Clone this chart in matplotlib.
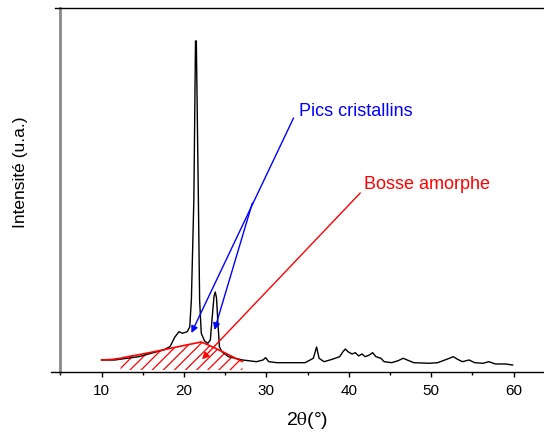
import numpy as np
import matplotlib
matplotlib.use('Agg')
import matplotlib.pyplot as plt

plt.rcParams['font.family'] = ['Liberation Sans', 'DejaVu Sans']
plt.rcParams['mathtext.fontset'] = 'stix'
plt.rcParams['hatch.linewidth'] = 0.9

# diffractogramme (2theta, intensité u.a.)
two_theta = [10.0, 11.6, 14.5, 17.5, 18.3, 18.9, 19.4, 19.8, 20.4, 20.7, 20.9, 21.2,
             21.4, 21.5, 21.75, 21.9, 22.1, 22.5, 22.9, 23.2, 23.4, 23.65, 23.8, 23.95,
             24.1, 24.3, 24.6, 25.4, 27.1, 28.8, 29.6, 29.9, 30.3, 31.3, 34.7, 35.7,
             36.1, 36.4, 37.0, 38.0, 38.9, 39.3, 39.6, 39.9, 40.4, 40.8, 41.2, 41.6,
             42.0, 42.5, 42.9, 43.3, 43.9, 44.3, 45.2, 46.0, 46.6, 47.3, 47.9, 49.8,
             50.8, 51.9, 52.7, 53.2, 53.8, 54.6, 55.3, 56.3, 57.0, 57.8, 59.0, 59.9]
intensite = [12, 12, 15.3, 22, 25.3, 35, 40.3, 38.7, 40.3, 45, 72, 172,
             331, 331, 172, 72, 38.7, 31, 28.7, 32, 52, 76, 80, 74,
             52, 25.3, 20.3, 15.3, 12, 10.3, 12, 14.3, 10.3, 9.3, 9.3, 13.7,
             25, 13.7, 10.3, 12.7, 15.3, 20.3, 23, 20.3, 18, 19.3, 16, 18,
             15.3, 17, 19.3, 15.3, 13.7, 10.3, 9.3, 11.3, 13.7, 11.3, 9.3, 8.7,
             9.3, 12.7, 15.3, 12.7, 10.3, 12, 9.3, 8.7, 10.3, 8, 8, 7]

# bosse amorphe
amorphe_x = [10.0, 11.2, 12.3, 13.0, 15.0, 17.7, 20.0, 22.1, 23.5, 25.0, 26.3, 27.1]
amorphe_y = [12, 12.5, 13.7, 15, 18, 22.5, 26.5, 30, 25, 19, 13.5, 10.5]

fig = plt.figure(figsize=(5.44, 4.34), dpi=100)
ax = fig.add_axes([0.111, 0.1429, 0.889, 0.8387])

ax.plot(two_theta, intensite, color='black', lw=1)
ax.plot(amorphe_x, amorphe_y, color='red', lw=1.2)
zone = np.array(amorphe_x) >= 12.3
ax.fill_between(amorphe_x, 2, amorphe_y, where=zone, facecolor='none',
                edgecolor='red', hatch='///', linewidth=0)

ax.set_xticks([10, 20, 30, 40, 50, 60])
ax.set_xticks([5, 15, 25, 35, 45, 55], minor=True)
ax.set_yticks([])
ax.set_xlim(5, 63.7)
ax.set_ylim(0, 364)

ax.spines['right'].set_visible(False)
ax.spines['left'].set_color('#888888')
ax.spines['left'].set_linewidth(2)
ax.spines['top'].set_linewidth(1)
ax.spines['bottom'].set_linewidth(1)
ax.spines['top'].set_bounds(4.4, 63.7)
ax.spines['bottom'].set_bounds(3.9, 63.7)

ax.tick_params(axis='x', which='major', direction='out', length=3.6, width=1,
               labelsize=11, pad=5, top=False)
ax.tick_params(axis='x', which='minor', direction='out', length=2.4, width=1, top=False)

ax.set_ylabel('Intensité (u.a.)', fontsize=12.5)
ax.yaxis.set_label_coords(-0.066, 0.55)
ax.set_xlabel(r'2$\mathrm{\theta}$(°)', fontsize=14)
ax.xaxis.set_label_coords(0.511, -0.105)

arrow_kw = dict(arrowstyle='-|>', lw=1, shrinkA=0, shrinkB=0, mutation_scale=10)
ax.annotate('', xy=(20.9, 39), xytext=(33.3, 254),
            arrowprops=dict(color='blue', **arrow_kw))
ax.annotate('', xy=(23.7, 42), xytext=(28.3, 169),
            arrowprops=dict(color='blue', **arrow_kw))
ax.annotate('', xy=(22.2, 12.7), xytext=(41.4, 179),
            arrowprops=dict(color='red', **arrow_kw))
ax.text(34.0, 256, 'Pics cristallins', color='blue', fontsize=13, va='baseline')
ax.text(41.9, 183, 'Bosse amorphe', color='red', fontsize=13, va='baseline')

fig.savefig('out.png', dpi=100)
